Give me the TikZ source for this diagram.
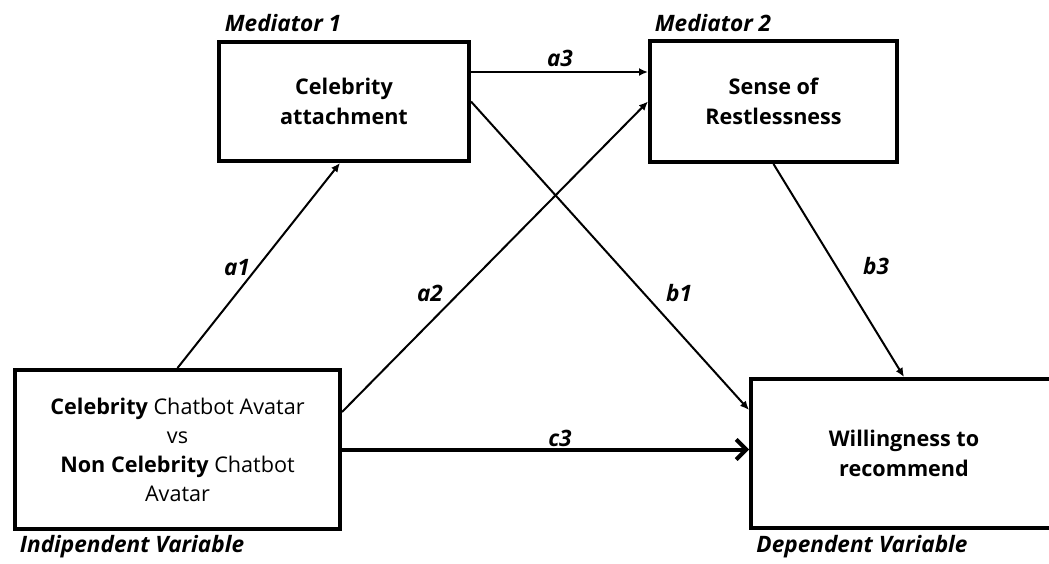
\documentclass[tikz,border=0pt]{standalone}
\usepackage{fontspec}
\setmainfont{Open Sans}
\usetikzlibrary{arrows.meta}

\begin{document}
\begin{tikzpicture}[x=0.5pt,y=-0.5pt]
        \tikzstyle{every node}=[font=\fontsize{10.8}{14.5}\selectfont]
        \tikzstyle{varbox}=[draw,line width=2pt,align=center,inner sep=0pt]
        \tikzstyle{tag}=[font=\fontsize{11.3}{14.5}\selectfont\bfseries\itshape]
        \tikzstyle{link}=[line width=1pt,-{Latex[length=4.5pt,width=4pt]}]
        \useasboundingbox (0,0) rectangle (1049,563);
        \node[varbox,font=\fontsize{10.8}{15}\selectfont\bfseries,minimum width=125pt,minimum height=59.5pt] (attach) at (344,101.5) {Celebrity\\attachment};
        \node[varbox,font=\fontsize{10.8}{15}\selectfont\bfseries,minimum width=123.5pt,minimum height=60.5pt] (restless) at (773.5,101.5) {Sense of\\Restlessness};
        \node[varbox,minimum width=162.5pt,minimum height=79.5pt] (iv) at (177.5,449.5) {\textbf{Celebrity} Chatbot Avatar\\vs\\\textbf{Non Celebrity} Chatbot\\Avatar};
        \node[varbox,font=\fontsize{10.8}{15}\selectfont\bfseries,minimum width=153pt,minimum height=74.5pt] (dv) at (904,453.5) {Willingness to\\recommend};
        \node[tag] (med1) at (283,23) {Mediator 1};
        \node[tag] (med2) at (713,23) {Mediator 2};
        \node[tag] (ivlab) at (132,547) {Indipendent Variable};
        \node[tag] (dvlab) at (862,547) {Dependent Variable};
        \draw[link] (iv.north) -- ([xshift=-2pt]attach.south);
        \draw[link] ([yshift=18.75pt]iv.east) -- (restless.west);
        \draw[link] ([yshift=14.75pt]attach.east) -- ([yshift=14.75pt]restless.west);
        \draw[link] (attach.east) -- ([yshift=21.75pt]dv.west);
        \draw[link] (restless.south) -- (dv.north);
        \draw[line width=2pt,-{Straight Barb[length=5pt,width=10pt]}] (iv.east) -- (iv.east -| dv.west);
        \node[tag] (a1) at (237,268) {a1};
        \node[tag] (a2) at (430,293) {a2};
        \node[tag] (a3) at (560,58) {a3};
        \node[tag] (b1) at (679,293) {b1};
        \node[tag] (b3) at (876,266) {b3};
        \node[tag] (c3) at (560,438) {c3};
    \end{tikzpicture}
\end{document}
